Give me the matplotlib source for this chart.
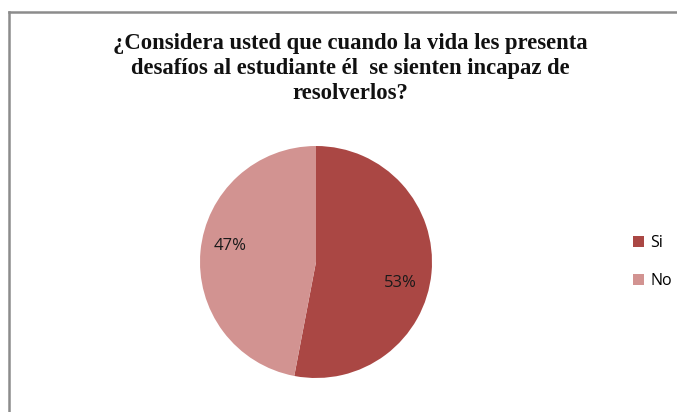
import matplotlib
matplotlib.use("Agg")
import matplotlib.pyplot as plt
from matplotlib.lines import Line2D
from matplotlib.patches import Patch

categories = ["Si", "No"]
shares = [53, 47]
colors = ["#AA4744", "#D29391"]
title = ("¿Considera usted que cuando la vida les presenta\n"
         "desafíos al estudiante él  se sienten incapaz de\n"
         "resolverlos?")

W, H = 677, 412
fig = plt.figure(figsize=(W / 100, H / 100), dpi=100)
fig.patch.set_facecolor("white")

# chart frame (left and top edges visible)
fig.add_artist(Line2D([9 / W, 9 / W], [0, 1 - 12 / H], transform=fig.transFigure,
                      color="#8C8C8C", lw=1.8))
fig.add_artist(Line2D([9 / W, 1], [1 - 12 / H, 1 - 12 / H], transform=fig.transFigure,
                      color="#8C8C8C", lw=1.8))

fig.text(350 / W, 1 - 33 / H, title, ha="center", va="top",
         family="Liberation Serif", fontweight="bold", fontsize=16.3,
         linespacing=1.25, color="#111111")

ax = fig.add_axes([200 / W, 34 / H, 232 / W, 232 / H])
wedges, texts, autotexts = ax.pie(
    shares, colors=colors, startangle=90, counterclock=False,
    autopct=lambda p: f"{p:.0f}%", pctdistance=0.75,
    wedgeprops=dict(linewidth=0),
    textprops=dict(family="Open Sans", fontsize=12, color="#1A1A1A"))
ax.set_xlim(-1, 1)
ax.set_ylim(-1, 1)
ax.set_aspect("equal")
autotexts[0].set_position((0.73, -0.18))
autotexts[1].set_position((-0.74, 0.14))

handles = [Patch(facecolor=c, edgecolor="none") for c in colors]
fig.legend(handles, categories, loc="center left",
           bbox_to_anchor=(619 / W, 1 - 262 / H), frameon=False,
           prop=dict(family="Open Sans", size=11.5),
           handlelength=0.65, handleheight=0.65, handletextpad=0.4,
           labelspacing=1.35)

fig.savefig("out.png", dpi=100, facecolor="white")
